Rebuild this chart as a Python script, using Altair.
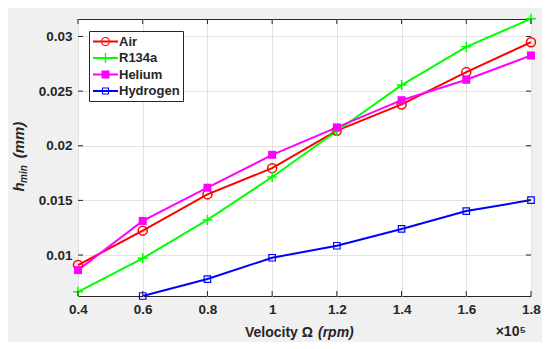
import altair as alt
import pandas as pd

speed = [0.4, 0.6, 0.8, 1.0, 1.2, 1.4, 1.6, 1.8]  # x 1e5 rpm
air = [0.00908, 0.01223, 0.01555, 0.01795, 0.02138, 0.02378, 0.02674, 0.02948]
r134a = [0.00663, 0.00970, 0.01321, 0.01714, 0.02135, 0.02555, 0.02905, 0.03162]
helium = [0.00862, 0.01312, 0.01616, 0.01917, 0.02168, 0.02417, 0.02604, 0.02826]
hydrogen_speed = [0.6, 0.8, 1.0, 1.2, 1.4, 1.6, 1.8]
hydrogen = [0.00625, 0.00780, 0.00975, 0.01085, 0.01239, 0.01402, 0.01503]

series = ["Air", "R134a", "Helium", "Hydrogen"]
colors = ["#ff0000", "#00ff00", "#ff00ff", "#0000ff"]
x_ticks = [0.4, 0.6, 0.8, 1.0, 1.2, 1.4, 1.6, 1.8]
y_ticks = [0.01, 0.015, 0.02, 0.025, 0.03]

rows = []
for name, xs_, ys_ in [("Air", speed, air), ("R134a", speed, r134a),
                       ("Helium", speed, helium), ("Hydrogen", hydrogen_speed, hydrogen)]:
    for xv, yv in zip(xs_, ys_):
        rows.append({"speed": xv, "h": yv, "series": name})
df = pd.DataFrame(rows)

W, H = 453, 277
TXT = "#262626"
FONT = "Liberation Sans"

# legend symbol paths (unit = 7.5 px)
S = 7.5
def rect(x0, y0, x1, y1):
    return f"M{x0/S:.3f},{y0/S:.3f}H{x1/S:.3f}V{y1/S:.3f}H{x0/S:.3f}Z"
def rect_ccw(x0, y0, x1, y1):
    return f"M{x0/S:.3f},{y0/S:.3f}V{y1/S:.3f}H{x1/S:.3f}V{y0/S:.3f}Z"
def ring(ro, ri):
    a, b = ro / S, ri / S
    return (f"M{a:.3f},0A{a:.3f},{a:.3f} 0 1,1 {-a:.3f},0A{a:.3f},{a:.3f} 0 1,1 {a:.3f},0Z"
            f"M{b:.3f},0A{b:.3f},{b:.3f} 0 1,0 {-b:.3f},0A{b:.3f},{b:.3f} 0 1,0 {b:.3f},0Z")
line_p = rect(-12.5, -1, 12.5, 1)
leg_paths = [
    line_p + ring(4.5, 3.5),
    line_p + rect(-0.7, -5, 0.7, 5),
    line_p + rect(-4, -4, 4, 4),
    line_p + rect(-3.5, -3.5, 3.5, 3.5) + rect_ccw(-2.5, -2.5, 2.5, 2.5),
]

xs = alt.Scale(domain=[0.4, 1.8], nice=False, zero=False)
ys = alt.Scale(domain=[0.00625, 0.0316], nice=False, zero=False)

X = alt.X("speed:Q", scale=xs, axis=alt.Axis(values=x_ticks, format="~g", title=None,
                                              grid=True, labelPadding=6, labelFlush=False))
Y = alt.Y("h:Q", scale=ys, axis=alt.Axis(values=y_ticks, format="~g", title=None,
                                         grid=True, labelPadding=6, labelFlush=False))

base = alt.Chart(df)

def sel(name):
    return base.transform_filter(alt.datum.series == name)

line_layers = [
    sel(name).mark_line(strokeWidth=2, clip=True, color=col).encode(x=X, y=Y)
    for name, col in zip(series, colors)
]

m_air = sel("Air").mark_point(
    shape="circle", size=81, filled=False, stroke="#ff0000", strokeWidth=1.5, opacity=1
).encode(x="speed:Q", y="h:Q")
m_r = sel("R134a").mark_point(
    shape="M-1,0L1,0M0,-1L0,1", size=100, filled=False, stroke="#00ff00", strokeWidth=1.5, opacity=1
).encode(x="speed:Q", y="h:Q")
m_he = sel("Helium").mark_point(
    shape="square", size=64, filled=True, fill="#ff00ff", opacity=1
).encode(x="speed:Q", y="h:Q")
m_h2 = sel("Hydrogen").mark_point(
    shape="square", size=42, filled=False, stroke="#0000ff", strokeWidth=1.2, opacity=1, clip=False
).encode(x="speed:Q", y="h:Q")

leg = alt.Legend(title=None, orient="none", legendX=11, legendY=12, symbolOpacity=1)
legend_layer = base.mark_point(filled=True, opacity=0, strokeWidth=0).encode(
    x="speed:Q", y="h:Q",
    fill=alt.Fill("series:N", scale=alt.Scale(domain=series, range=colors), legend=leg),
    shape=alt.Shape("series:N", scale=alt.Scale(domain=series, range=leg_paths), legend=leg),
)

tick_df = pd.DataFrame({"speed": x_ticks})
ytick_df = pd.DataFrame({"h": y_ticks})
xt_b = alt.Chart(tick_df).mark_rule(color=TXT, strokeWidth=1).encode(
    x=alt.X("speed:Q", scale=xs), y=alt.value(H), y2=alt.value(H - 5))
xt_t = alt.Chart(tick_df).mark_rule(color=TXT, strokeWidth=1).encode(
    x=alt.X("speed:Q", scale=xs), y=alt.value(0), y2=alt.value(5))
yt_l = alt.Chart(ytick_df).mark_rule(color=TXT, strokeWidth=1).encode(
    y=alt.Y("h:Q", scale=ys), x=alt.value(0), x2=alt.value(5))
yt_r = alt.Chart(ytick_df).mark_rule(color=TXT, strokeWidth=1).encode(
    y=alt.Y("h:Q", scale=ys), x=alt.value(W), x2=alt.value(W - 5))

# annotation texts (axis titles and exponent)
def label(text, x, y, size, style="normal", align="center", angle=0, weight="bold"):
    return alt.Chart(pd.DataFrame({"t": [text]})).mark_text(
        align=align, baseline="middle", fontSize=size, fontWeight=weight, fontStyle=style,
        color=TXT, font=FONT, angle=angle
    ).encode(x=alt.value(x), y=alt.value(y), text="t:N")

exp_label = alt.Chart(pd.DataFrame({"speed": [1.8], "t": ["×10⁵"]})).mark_text(
    align="right", baseline="middle", fontSize=14, fontWeight="bold", color=TXT, font=FONT, dx=-5
).encode(x=alt.X("speed:Q", scale=xs), y=alt.value(313), text="t:N")

titles = [
    label("Velocity Ω", 235, 314, 14, align="right"),
    label("(rpm)", 240, 314, 14, style="italic", align="left"),
    label("h", -59, 168, 15, style="italic", angle=270),
    label("min", -54, 155, 10, style="italic", angle=270),
    label("(mm)", -59, 121, 15, style="italic", angle=270),
]

chart = alt.layer(
    *line_layers, m_air, m_r, m_he, m_h2, legend_layer, xt_b, xt_t, yt_l, yt_r, exp_label, *titles
).properties(
    width=W, height=H,
    padding={"left": 70, "top": 11, "right": 11, "bottom": 46},
    autosize=alt.AutoSizeParams(type="none"),
    background="#f0f0f0",
).configure_view(
    fill="white", stroke=TXT, strokeWidth=1
).configure_axis(
    labelFont=FONT, labelFontSize=13.5, labelFontWeight="bold", labelColor=TXT,
    gridColor="#e2e2e2", gridWidth=1, domain=False, tickSize=0,
).configure_legend(
    fillColor="white", strokeColor=TXT, strokeWidth=1, padding=3, cornerRadius=0,
    symbolSize=225, symbolOpacity=1, symbolStrokeWidth=0, symbolOffset=6,
    labelFont=FONT, labelFontSize=13, labelFontWeight="bold", labelColor=TXT,
    labelOffset=6, rowPadding=1.5,
)

chart.save("out.html", embed_options={"renderer": "svg", "actions": False})
